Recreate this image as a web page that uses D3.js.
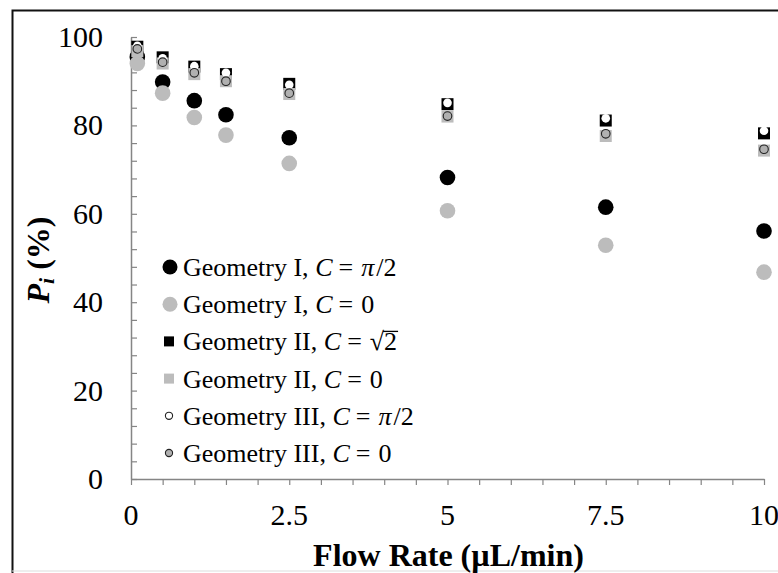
<!DOCTYPE html>
<html>
<head>
<meta charset="utf-8">
<script src="https://cdn.jsdelivr.net/npm/d3@7"></script>
<style>
  body { margin: 0; background: #fff; }
  svg { display: block; }
</style>
</head>
<body>
<div id="chart"></div>
<script>
'use strict'

// flow rate (µL/min) and P_i (%) per series
const flowRates = [0.1, 0.5, 1, 1.5, 2.5, 5, 7.5, 10];
const geoI_pi2 = [95.5, 89.8, 85.6, 82.4, 77.2, 68.2, 61.5, 56.1];
const geoI_0 = [94.0, 87.3, 81.8, 77.8, 71.4, 60.7, 52.9, 46.8];
const geoII_sqrt2 = [97.8, 95.4, 93.3, 91.6, 89.4, 84.8, 81.1, 78.2];
const geoII_0 = [96.8, 94.0, 91.6, 90.0, 87.1, 82.0, 77.6, 74.3];
const geoIII_pi2 = [98.0, 95.2, 93.4, 91.9, 89.2, 85.1, 81.6, 78.8];
const geoIII_0 = [97.3, 94.3, 91.9, 90.0, 87.3, 82.1, 78.1, 74.6];

const xTickLabels = [0, 2.5, 5, 7.5, 10];
const yTickLabels = [0, 20, 40, 60, 80, 100];

const seriesNames = ["Geometry I", "Geometry I", "Geometry II", "Geometry II", "Geometry III", "Geometry III"];
const seriesC = ["π/2", "0", "√2", "0", "π/2", "0"];

////////////////////////////////////
//////////// svg setup /////////////
////////////////////////////////////

const svgWidth = 778
const svgHeight = 573
const margin = { left: 131, right: 14, top: 37, bottom: 94 }
const width = svgWidth - margin.left - margin.right
const height = svgHeight - margin.top - margin.bottom

const serif = '"Liberation Serif", "Times New Roman", serif'
const gray = '#bcbcbc'
const axisGray = '#858585'

const root = d3.select('#chart')
    .append('svg')
    .attr('width', svgWidth)
    .attr('height', svgHeight)

// figure frame
root.append('path')
    .attr('d', `M12.5,${svgHeight} V10.5 H${svgWidth}`)
    .attr('fill', 'none')
    .attr('stroke', '#111')
    .attr('stroke-width', 2)
root.append('line')
    .attr('x1', 12).attr('x2', svgWidth)
    .attr('y1', 571).attr('y2', 571)
    .attr('stroke', '#ddd')

const svg = root.append('g')
    .attr('transform', `translate(${margin.left},${margin.top})`)

////////////////////////////////////
//////////// Scales ////////////////
////////////////////////////////////

const x = d3.scaleLinear().domain([0, 10]).range([0, width])
const y = d3.scaleLinear().domain([0, 100]).range([height, 0])

////////////////////////////////////
//////////// axis //////////////////
////////////////////////////////////

const xAxis = svg.append('g')
    .attr('transform', `translate(0,${height})`)
    .call(d3.axisBottom(x).tickValues(d3.range(0, 10.01, 0.5)).tickSize(6).tickSizeOuter(0).tickFormat(''))
const yAxis = svg.append('g')
    .call(d3.axisRight(y).tickValues(d3.range(0, 100.01, 4)).tickSize(6).tickSizeOuter(0).tickFormat(''))

;[xAxis, yAxis].forEach(a => {
    a.select('.domain').attr('stroke', axisGray).attr('stroke-width', 1.5)
    a.selectAll('.tick line').attr('stroke', axisGray).attr('stroke-width', 1.2)
})

svg.selectAll('.xlab')
    .data(xTickLabels)
    .join('text')
    .attr('class', 'xlab')
    .attr('x', d => x(d))
    .attr('y', height + 46)
    .attr('text-anchor', 'middle')
    .style('font-family', serif)
    .style('font-size', '30px')
    .text(d => d)

svg.selectAll('.ylab')
    .data(yTickLabels)
    .join('text')
    .attr('class', 'ylab')
    .attr('x', -28)
    .attr('y', d => y(d) + 10)
    .attr('text-anchor', 'end')
    .style('font-family', serif)
    .style('font-size', '30px')
    .text(d => d)

svg.append('text')
    .attr('x', width / 2 + 1)
    .attr('y', height + 87)
    .attr('text-anchor', 'middle')
    .style('font-family', serif)
    .style('font-size', '32px')
    .style('font-weight', 'bold')
    .text('Flow Rate (µL/min)')

const yTitle = root.append('text')
    .attr('transform', 'translate(49,260) rotate(-90)')
    .attr('text-anchor', 'middle')
    .style('font-family', serif)
    .style('font-size', '32px')
    .style('font-weight', 'bold')
yTitle.append('tspan').style('font-style', 'italic').text('P')
yTitle.append('tspan').style('font-style', 'italic').style('font-size', '22px').attr('dy', 5).text('i')
yTitle.append('tspan').attr('dy', -5).text(' (%)')

////////////////////////////////////
//////////// marks /////////////////
////////////////////////////////////

const bigR = 7.8
const smallR = 4.3
const sq = 12

function circles(values, r, fill, stroke) {
    svg.append('g')
        .selectAll('circle')
        .data(values)
        .join('circle')
        .attr('cx', (d, i) => x(flowRates[i]))
        .attr('cy', d => y(d))
        .attr('r', r)
        .attr('fill', fill)
        .attr('stroke', stroke || 'none')
        .attr('stroke-width', 1.1)
}

function squares(values, fill) {
    svg.append('g')
        .selectAll('rect')
        .data(values)
        .join('rect')
        .attr('x', (d, i) => x(flowRates[i]) - sq / 2)
        .attr('y', d => y(d) - sq / 2)
        .attr('width', sq)
        .attr('height', sq)
        .attr('fill', fill)
}

circles(geoI_pi2, bigR, '#000')
circles(geoI_0, bigR, gray)
squares(geoII_sqrt2, '#000')
squares(geoII_0, gray)
circles(geoIII_pi2, smallR, '#fff')
circles(geoIII_0, smallR, '#b0b0b0', '#222')

////////////////////////////////////
//////////// legend ////////////////
////////////////////////////////////

const legend = root.append('g')
const rowY = i => 267 + i * 37.2

const legendMarks = [
    g => g.append('circle').attr('r', 7.5).attr('fill', '#000'),
    g => g.append('circle').attr('r', 7.5).attr('fill', gray),
    g => g.append('rect').attr('x', -5).attr('y', -5).attr('width', 10).attr('height', 10).attr('fill', '#000'),
    g => g.append('rect').attr('x', -5).attr('y', -5).attr('width', 10).attr('height', 10).attr('fill', gray),
    g => g.append('circle').attr('r', 3.6).attr('fill', '#fff').attr('stroke', '#222').attr('stroke-width', 1.1),
    g => g.append('circle').attr('r', 3.6).attr('fill', '#b0b0b0').attr('stroke', '#222').attr('stroke-width', 1.1)
]

seriesNames.forEach((name, i) => {
    const mx = i < 2 ? 170 : 169
    const m = legend.append('g').attr('transform', `translate(${mx},${rowY(i)})`)
    legendMarks[i](m)

    const t = legend.append('text')
        .attr('x', 183)
        .attr('y', rowY(i) + 9)
        .style('font-family', serif)
        .style('font-size', '26px')
    t.append('tspan').text(name + ', ')
    t.append('tspan').style('font-style', 'italic').text('C')
    t.append('tspan').attr('dx', 6).text('=')
    const c = seriesC[i]
    if (c === 'π/2') {
        t.append('tspan').attr('dx', 8).style('font-style', 'italic').text('π')
        t.append('tspan').attr('dx', 2).text('/2')
    } else {
        t.append('tspan').attr('dx', 8).text(c)
    }

    // overbar for the square root
    if (c === '√2') {
        const node = t.node()
        const n = node.getNumberOfChars()
        const start = node.getStartPositionOfChar(n - 1)
        const end = node.getEndPositionOfChar(n - 1)
        legend.append('line')
            .attr('x1', start.x - 1).attr('x2', end.x + 1)
            .attr('y1', rowY(i) - 10).attr('y2', rowY(i) - 10)
            .attr('stroke', '#000').attr('stroke-width', 1.3)
    }
})
</script>
</body>
</html>
